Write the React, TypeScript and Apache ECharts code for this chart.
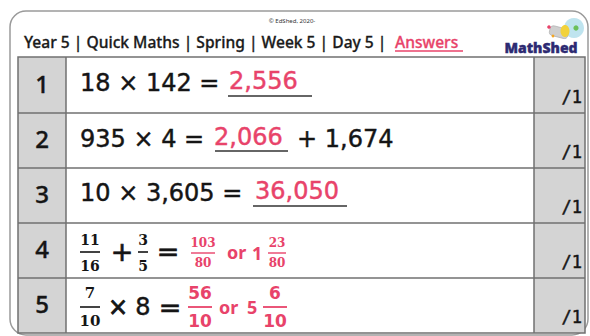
import React, { useEffect, useRef } from 'react';
import * as echarts from 'echarts';

const titleText = 'Year 5 | Quick Maths | Spring | Week 5 | Day 5 | ';
const titleAnswer = 'Answers';
const copyright = '© EdShed, 2020-';
const brand = 'MathShed';
const rowNumbers = ['1', '2', '3', '4', '5'];
const scoreLabels = ['/1', '/1', '/1', '/1', '/1'];
const wholeQuestions = ['18 × 142 = ', '935 × 4 = ', '10 × 3,605 = '];
const wholeAnswers = ['2,556', '2,066', '36,050'];
const questionTails = ['', '+ 1,674', ''];
const q4Fractions = [['11', '16'], ['3', '5']];
const q4Operators = ['+', '='];
const a4Fraction = ['103', '80'];
const a4Mixed = ['1', '23', '80'];
const q5Fraction = ['7', '10'];
const q5Rest = ['×', '8', '='];
const a5Fraction = ['56', '10'];
const a5Mixed = ['5', '6', '10'];
const orWord = 'or';

const PINK = '#e8436a';
const INK = '#151515';
const GRID = '#707070';
const GREY = '#d4d4d4';

const ROW_TOPS = [57, 113, 168, 223, 278];
const TABLE_BOTTOM = 333;
const T_LEFT = 18;
const T_NUM_R = 66;
const T_SCORE_L = 534;
const T_RIGHT = 585;

function txt(x: number, y: number, text: string, o: any = {}) {
  const style: any = {
    text,
    fill: o.fill || INK,
    fontSize: o.size || 24,
    fontFamily: o.family || 'DejaVu Sans',
    fontWeight: o.weight || 'normal',
    align: o.align || 'left',
    verticalAlign: 'middle',
  };
  if (o.thick) {
    style.stroke = o.fill || INK;
    style.lineWidth = o.thick;
  }
  return { type: 'text', x, y, silent: true, style };
}

function hline(x1: number, x2: number, y: number, color: string, w = 1.5) {
  return { type: 'line', silent: true, shape: { x1, y1: y, x2, y2: y }, style: { stroke: color, lineWidth: w } };
}

function vline(x: number, y1: number, y2: number, color: string, w = 1.5) {
  return { type: 'line', silent: true, shape: { x1: x, y1, x2: x, y2 }, style: { stroke: color, lineWidth: w } };
}

function frac(cx: number, numY: number, lineY: number, denY: number, num: string, den: string, o: any, halfW: number) {
  return [
    txt(cx, numY, num, { ...o, align: 'center' }),
    hline(cx - halfW, cx + halfW, lineY, o.fill || INK, o.lw || 1.6),
    txt(cx, denY, den, { ...o, align: 'center' }),
  ];
}

function buildGraphics() {
  const els: any[] = [];
  // outer frame
  els.push({
    type: 'rect', silent: true,
    shape: { x: 10, y: 11, width: 578, height: 324, r: 16 },
    style: { fill: '#ffffff', stroke: '#9a9a9a', lineWidth: 1.5 },
  });
  // copyright
  els.push(txt(292, 21, copyright, { size: 6, family: 'Noto Sans', fill: '#333', align: 'center' }));
  // title
  els.push(txt(24, 42, titleText, { size: 15.6, family: 'Noto Sans', weight: 500, fill: '#1a1a1a', thick: 0.3 }));
  els.push(txt(395, 42, titleAnswer, { size: 15.6, family: 'Noto Sans', weight: 500, fill: PINK, thick: 0.3 }));
  els.push(hline(395, 463, 51, PINK, 1.6));
  // logo
  els.push({ type: 'circle', silent: true, shape: { cx: 574, cy: 28, r: 10 }, style: { fill: '#bfe4ef' } });
  els.push({ type: 'rect', silent: true, rotation: -0.25, x: 551, y: 25, shape: { x: 0, y: 0, width: 19, height: 10, r: 4 }, style: { fill: '#cfcfcf', stroke: '#a9a9a9', lineWidth: 0.6 } });
  els.push({ type: 'ellipse', silent: true, shape: { cx: 565, cy: 31, rx: 4.5, ry: 6 }, style: { fill: '#f2d23a' } });
  els.push({ type: 'circle', silent: true, shape: { cx: 576, cy: 28, r: 2.6 }, style: { fill: '#6bbf59' } });
  els.push({ type: 'circle', silent: true, shape: { cx: 549, cy: 27, r: 1.8 }, style: { fill: '#e8436a' } });
  els.push({ type: 'circle', silent: true, shape: { cx: 553, cy: 36, r: 1.4 }, style: { fill: '#f5a623' } });
  els.push(txt(541, 47, brand, { size: 14, family: 'Noto Sans', weight: 900, fill: '#2d2a72', align: 'center', thick: 0.4 }));

  // table fills
  els.push({ type: 'rect', silent: true, shape: { x: T_LEFT, y: ROW_TOPS[0], width: T_NUM_R - T_LEFT, height: TABLE_BOTTOM - ROW_TOPS[0] }, style: { fill: GREY } });
  els.push({ type: 'rect', silent: true, shape: { x: T_SCORE_L, y: ROW_TOPS[0], width: T_RIGHT - T_SCORE_L, height: TABLE_BOTTOM - ROW_TOPS[0] }, style: { fill: GREY } });
  // grid lines
  els.push({ type: 'rect', silent: true, shape: { x: T_LEFT, y: ROW_TOPS[0], width: T_RIGHT - T_LEFT, height: TABLE_BOTTOM - ROW_TOPS[0] }, style: { fill: 'none', stroke: GRID, lineWidth: 1.5 } });
  for (let i = 1; i < ROW_TOPS.length; i++) els.push(hline(T_LEFT, T_RIGHT, ROW_TOPS[i], GRID, 1.5));
  els.push(vline(T_NUM_R, ROW_TOPS[0], TABLE_BOTTOM, GRID, 1.5));
  els.push(vline(T_SCORE_L, ROW_TOPS[0], TABLE_BOTTOM, GRID, 1.5));

  // row numbers and scores
  rowNumbers.forEach((n, i) => {
    const top = ROW_TOPS[i];
    const bot = i + 1 < ROW_TOPS.length ? ROW_TOPS[i + 1] : TABLE_BOTTOM;
    els.push(txt(42, (top + bot) / 2 - 2, n, { size: 24, family: 'Noto Sans', weight: 500, align: 'center', thick: 0.4 }));
    els.push(txt(582, bot - 16, scoreLabels[i], { size: 17, family: 'DejaVu Sans Mono', align: 'right', thick: 0.5 }));
  });

  // rows 1-3
  const qY = [83, 139, 193];
  const aX = [229, 214, 255];
  const ulX = [[228, 312], [215, 288], [253, 347]];
  const ulY = [96, 151, 206];
  wholeQuestions.forEach((q, i) => {
    els.push(txt(80, qY[i], q, { size: 24, thick: 0.45 }));
    els.push(txt(aX[i], qY[i] - 2, wholeAnswers[i], { size: 24, fill: PINK, thick: 0.45 }));
    els.push(hline(ulX[i][0], ulX[i][1], ulY[i], '#333', 1.5));
    if (questionTails[i]) els.push(txt(297, qY[i], questionTails[i], { size: 24, thick: 0.45 }));
  });

  // row 4
  const fBlack = { size: 14, family: 'DejaVu Serif', weight: 'bold', fill: INK };
  els.push(...frac(90, 240, 252, 266, q4Fractions[0][0], q4Fractions[0][1], fBlack, 10));
  els.push(txt(122, 251, q4Operators[0], { size: 27, align: 'center', thick: 0.7 }));
  els.push(...frac(143, 240, 252, 266, q4Fractions[1][0], q4Fractions[1][1], fBlack, 5));
  els.push(txt(168, 251, q4Operators[1], { size: 27, align: 'center', thick: 0.7 }));
  const fPinkSmall = { size: 12, family: 'DejaVu Serif', weight: 'bold', fill: PINK, lw: 1.4 };
  els.push(...frac(203, 243, 253, 263, a4Fraction[0], a4Fraction[1], fPinkSmall, 12));
  els.push(txt(227, 252, orWord, { size: 18, fill: PINK, family: 'Noto Sans', weight: 700 }));
  els.push(txt(252, 253, a4Mixed[0], { size: 18, fill: PINK, family: 'Noto Sans', weight: 700 }));
  els.push(...frac(277, 243, 253, 263, a4Mixed[1], a4Mixed[2], fPinkSmall, 9));

  // row 5
  els.push(...frac(90, 293, 307, 321, q5Fraction[0], q5Fraction[1], { ...fBlack, size: 15 }, 10));
  els.push(txt(118, 307, q5Rest[0], { size: 24, align: 'center', thick: 0.9 }));
  els.push(txt(143, 307, q5Rest[1], { size: 24, align: 'center', thick: 0.45 }));
  els.push(txt(170, 307, q5Rest[2], { size: 27, align: 'center', thick: 0.7 }));
  const fPinkBig = { size: 17, family: 'DejaVu Sans', weight: 'bold', fill: PINK, lw: 1.8 };
  els.push(...frac(200, 293, 307, 321, a5Fraction[0], a5Fraction[1], fPinkBig, 12));
  els.push(txt(219, 307, orWord, { size: 18, fill: PINK, family: 'Noto Sans', weight: 700 }));
  els.push(txt(247, 307, a5Mixed[0], { size: 18, fill: PINK, family: 'Noto Sans', weight: 700 }));
  els.push(...frac(275, 293, 307, 321, a5Mixed[1], a5Mixed[2], fPinkBig, 12));

  return els;
}

export default function App() {
  const ref = useRef<HTMLDivElement>(null);
  useEffect(() => {
    if (!ref.current) return;
    const chart = echarts.init(ref.current, undefined, { renderer: 'svg' });
    chart.setOption({
      animation: false,
      backgroundColor: '#ffffff',
      graphic: { elements: buildGraphics() },
    });
    return () => chart.dispose();
  }, []);
  return (
    <div
      ref={ref}
      style={{ position: 'fixed', left: 0, top: 0, width: 590, height: 336, background: '#fff' }}
    />
  );
}
